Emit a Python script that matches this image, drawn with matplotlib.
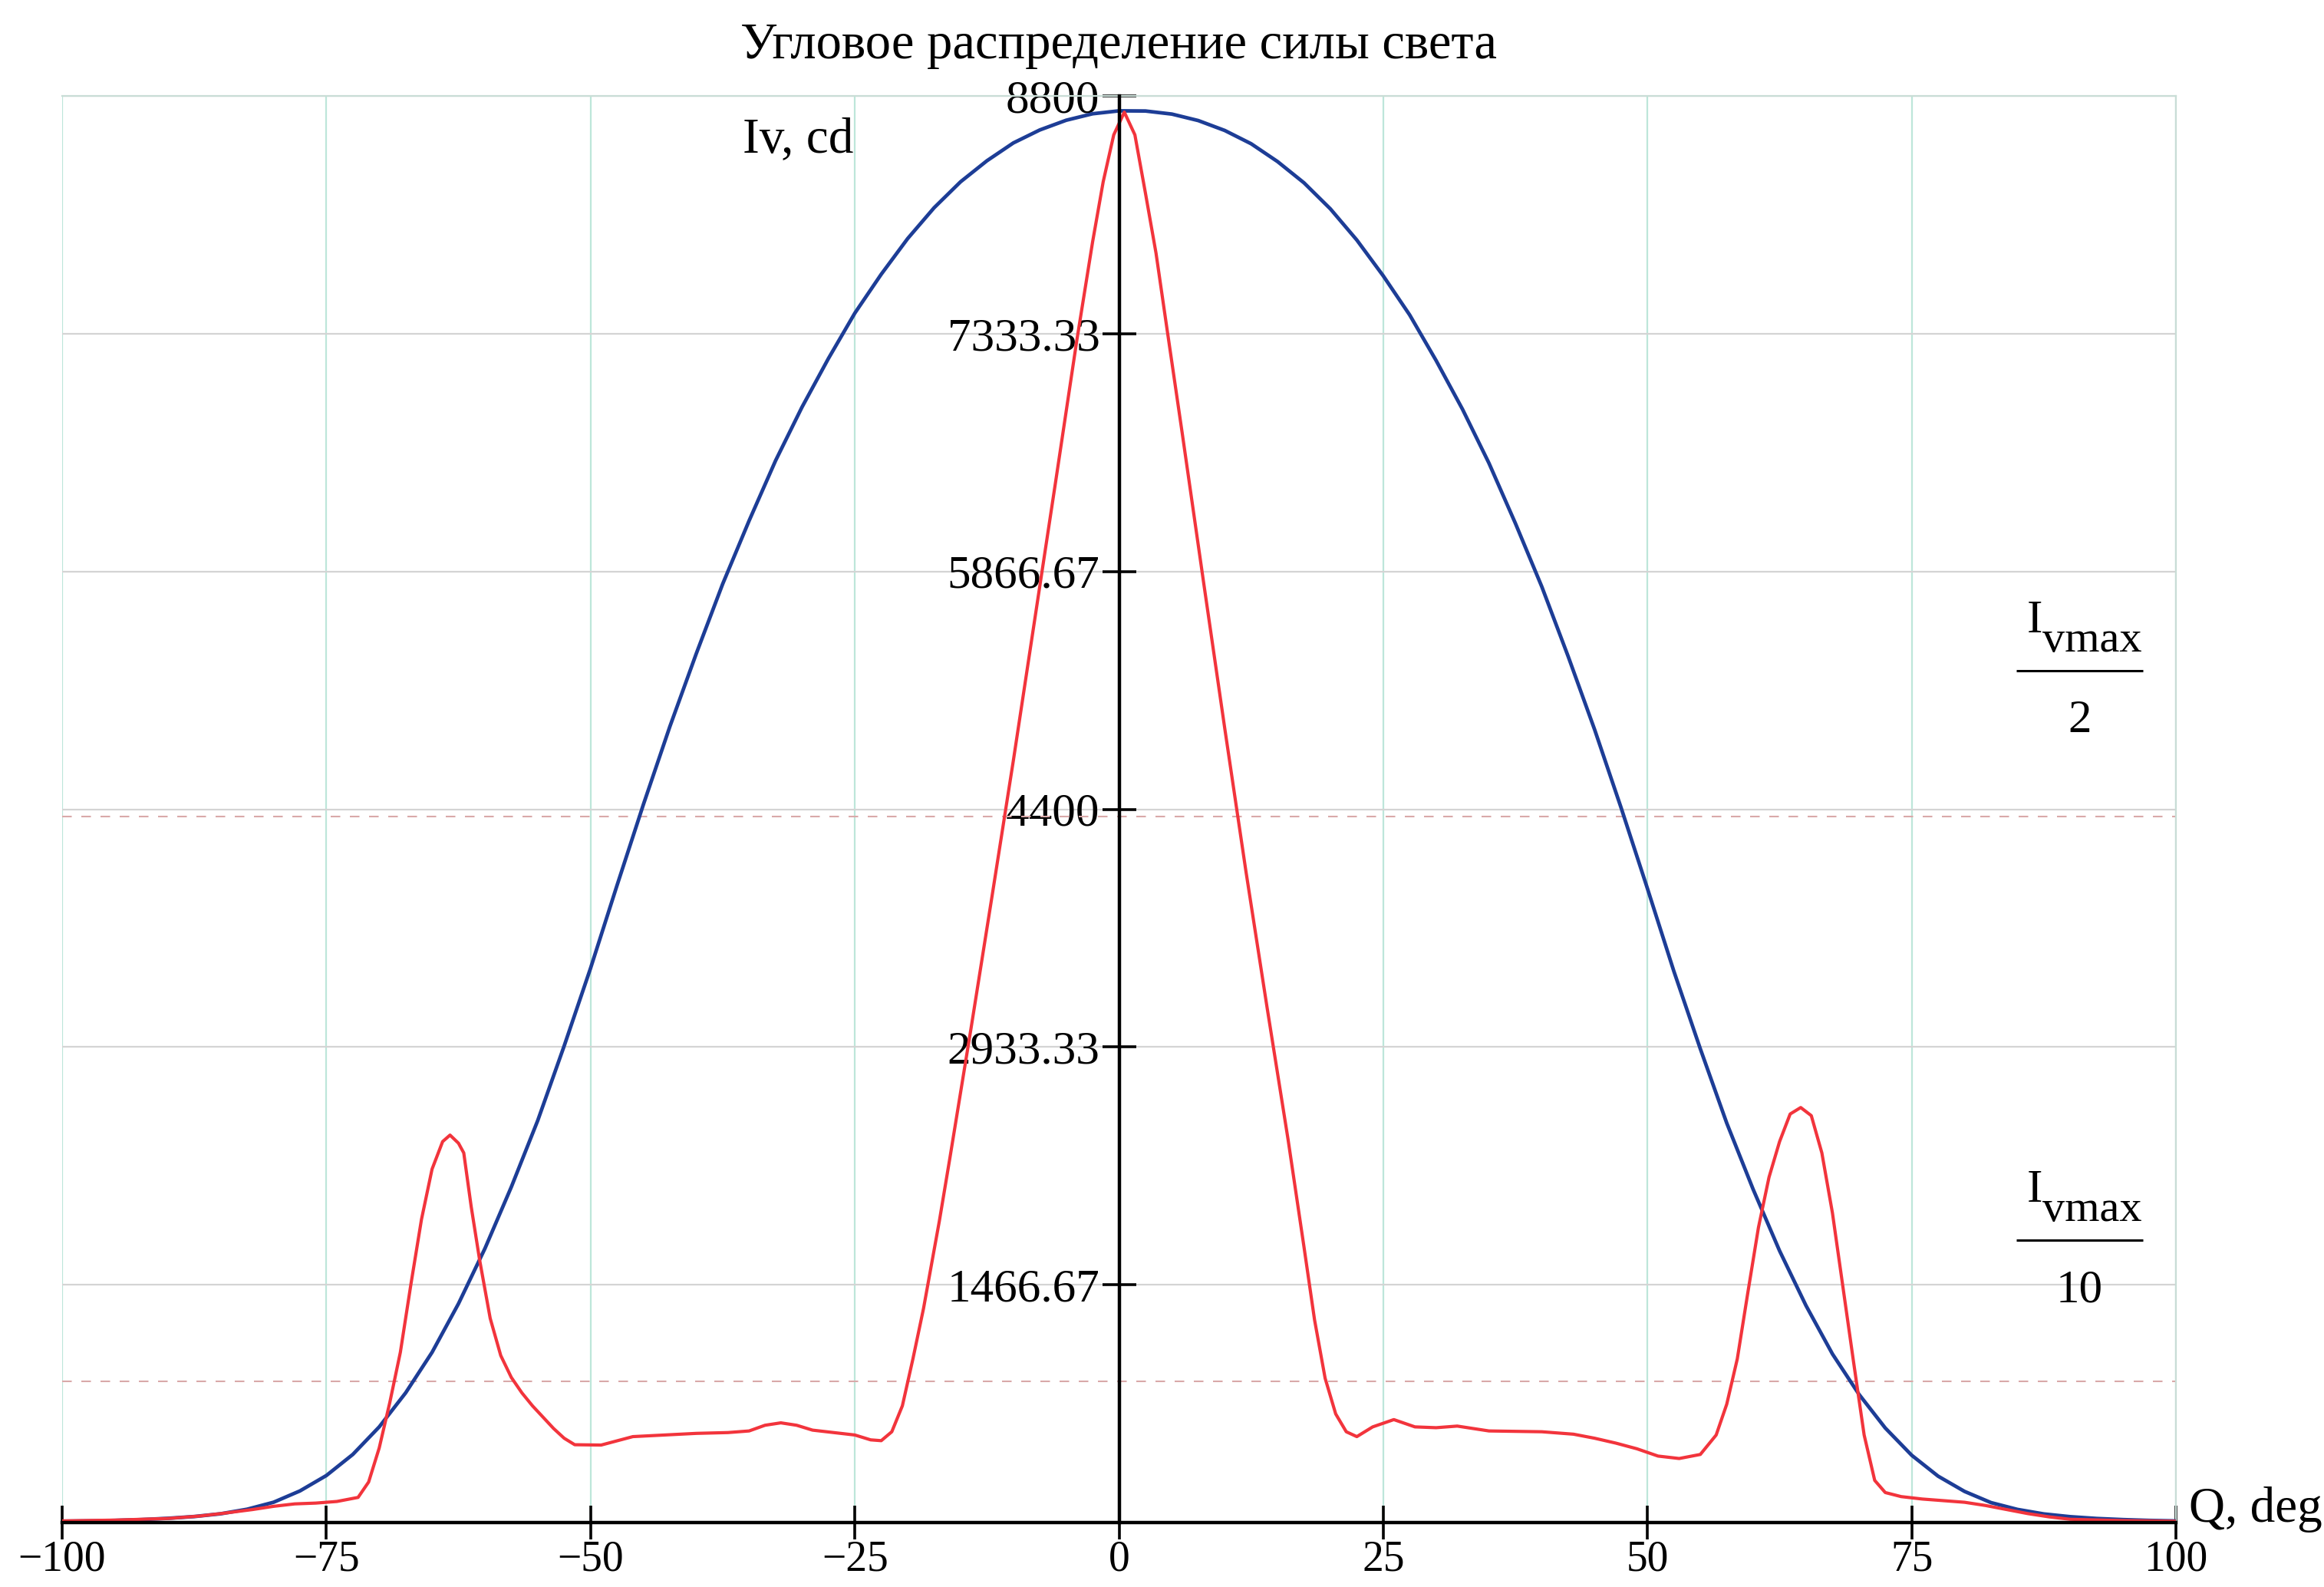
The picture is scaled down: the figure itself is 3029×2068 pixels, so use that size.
import numpy as np
import matplotlib
matplotlib.use("Agg")
import matplotlib.pyplot as plt

plt.rcParams['font.family'] = ['Liberation Serif', 'DejaVu Serif']
plt.rcParams['mathtext.fontset'] = 'custom'
plt.rcParams['mathtext.rm'] = 'Liberation Serif'

title = 'Угловое распределение силы света'

# blue curve, angle step 2.5 deg
blue_angle = [-100, -97.5, -95, -92.5, -90, -87.5, -85, -82.5, -80, -77.5,
              -75, -72.5, -70, -67.5, -65, -62.5, -60, -57.5, -55, -52.5,
              -50, -47.5, -45, -42.5, -40, -37.5, -35, -32.5, -30, -27.5,
              -25, -22.5, -20, -17.5, -15, -12.5, -10, -7.5, -5, -2.5,
              0, 2.5, 5, 7.5, 10, 12.5, 15, 17.5, 20, 22.5,
              25, 27.5, 30, 32.5, 35, 37.5, 40, 42.5, 45, 47.5,
              50, 52.5, 55, 57.5, 60, 62.5, 65, 67.5, 70, 72.5,
              75, 77.5, 80, 82.5, 85, 87.5, 90, 92.5, 95, 97.5, 100]
blue_iv = [8, 10, 13, 18, 26, 37, 54, 82, 125, 195,
           290, 420, 590, 800, 1050, 1350, 1690, 2070, 2480, 2940,
           3420, 3930, 4430, 4910, 5360, 5790, 6180, 6550, 6880, 7180,
           7460, 7700, 7920, 8110, 8270, 8400, 8510, 8590, 8650, 8690,
           8708, 8707, 8688, 8648, 8587, 8505, 8395, 8264, 8103, 7911,
           7690, 7449, 7168, 6867, 6535, 6164, 5773, 5342, 4891, 4410,
           3910, 3400, 2922, 2464, 2055, 1676, 1338, 1040, 792, 583,
           415, 286, 192, 123, 81, 53, 36, 25, 18, 13, 10]

# red curve, uneven angle step
red_angle = [-100, -95, -90, -87, -85, -82, -80, -78, -76, -74,
             -72, -71, -70, -69, -68, -67, -66, -65, -64, -63.3,
             -62.5, -62, -61.3, -60.5, -59.5, -58.5, -57.5, -56.5, -55.5, -54.5,
             -53.5, -52.5, -51.5, -49, -46, -43, -40, -37, -35, -33.5,
             -32, -30.5, -29, -27, -25, -23.5, -22.5, -21.5, -20.5, -19.5,
             -18.5, -17, -16, -14, -12, -10, -8, -6, -4, -2.5,
             -1.5, -0.5, 0.5, 1.5, 2.5, 3.5, 4.5, 6, 8, 10,
             12, 14, 16, 17.5, 18.5, 19.5, 20.5, 21.5, 22.5, 24,
             26, 28, 30, 32, 35, 40, 43, 45, 47, 49,
             51, 53, 55, 56.5, 57.5, 58.5, 59.5, 60.5, 61.5, 62.5,
             63.5, 64.5, 65.5, 66.5, 67.5, 68.5, 69.5, 70.5, 71.5, 72.5,
             74, 76, 78, 80, 82, 84, 86, 88, 90, 95, 100]
red_iv = [10, 15, 25, 40, 55, 80, 100, 115, 120, 130,
          155, 250, 460, 740, 1050, 1470, 1870, 2180, 2350, 2390,
          2340, 2280, 1950, 1620, 1260, 1030, 895, 800, 720, 650,
          580, 520, 480, 478, 530, 540, 550, 555, 565, 600,
          615, 600, 570, 555, 540, 510, 505, 560, 720, 1010,
          1320, 1860, 2250, 3050, 3870, 4700, 5560, 6420, 7290, 7900,
          8270, 8560, 8700, 8560, 8200, 7830, 7380, 6710, 5800, 4900,
          4020, 3180, 2360, 1700, 1250, 890, 670, 560, 530, 590,
          635, 590, 585, 595, 565, 560, 545, 520, 490, 455,
          410, 395, 420, 540, 730, 1010, 1420, 1820, 2130, 2350,
          2520, 2560, 2510, 2280, 1910, 1450, 990, 540, 260, 185,
          160, 145, 135, 125, 105, 80, 55, 35, 20, 12, 8]

x_ticks = [-100, -75, -50, -25, 0, 25, 50, 75, 100]
y_max = 8800
y_ticks = [y_max * k / 6 for k in range(1, 7)]
y_labels = ['1466.67', '2933.33', '4400', '5866.67', '7333.33', '8800']

iv_max = max(blue_iv)

W, H = 3029, 2068
fig = plt.figure(figsize=(W / 100, H / 100), dpi=100)
ax = fig.add_axes([81 / W, 1 - 1984 / H, (2836 - 81) / W, (1984 - 125) / H])

ax.set_xlim(-100, 100)
ax.set_ylim(0, y_max)

# grid
ax.set_xticks(x_ticks)
ax.set_yticks(y_ticks)
ax.set_yticklabels(y_labels)
ax.grid(axis='x', color='#bde6da', lw=1.6)
ax.grid(axis='y', color='#d4d4d4', lw=1.6)
ax.set_axisbelow(True)

# axes crossing at zero
ax.spines['left'].set_position(('data', 0))
ax.spines['bottom'].set_position(('data', 0))
for s in ['left', 'bottom']:
    ax.spines[s].set_linewidth(3.2)
    ax.spines[s].set_color('black')
    ax.spines[s].set_zorder(5)
for s in ['top', 'right']:
    ax.spines[s].set_color('#c9ddd6')
    ax.spines[s].set_linewidth(1.6)

ax.tick_params(axis='both', direction='inout', length=32, width=2.6,
               color='black')
ax.tick_params(axis='x', pad=0, labelsize=40)
ax.tick_params(axis='y', pad=2, labelsize=44)

# threshold levels
ax.axhline(iv_max / 2, color='#d9a9a9', lw=1.5, ls=(0, (6, 6)), zorder=1)
ax.axhline(iv_max / 10, color='#d9a9a9', lw=1.5, ls=(0, (6, 6)), zorder=1)

ax.plot(blue_angle, blue_iv, color='#1d3d96', lw=3.4, zorder=3)
ax.plot(red_angle, red_iv, color='#f2343c', lw=3.0, zorder=4)

# labels
fig.text(1458 / W, 1 - 60 / H, title, ha='center', va='center', fontsize=48)
ax.text(-35.6, 8530, 'Iv, cd', ha='left', va='center', fontsize=47)
ax.text(1.006, 80, 'Q, deg', transform=ax.get_yaxis_transform(),
        ha='left', va='center', fontsize=47, clip_on=False)

# Ivmax/2 and Ivmax/10 captions (fractions)
for bar_y, denom in [(5255, '2'), (1740, '10')]:
    ax.text(87.4, bar_y + 237, 'I', ha='right', va='baseline', fontsize=44)
    ax.text(87.4, bar_y + 118, 'vmax', ha='left', va='baseline', fontsize=42)
    ax.hlines(bar_y, 84.9, 96.9, color='black', lw=2.2)
    ax.text(90.9, bar_y - 379, denom, ha='center', va='baseline', fontsize=44)

fig.savefig('out.png', dpi=100)
